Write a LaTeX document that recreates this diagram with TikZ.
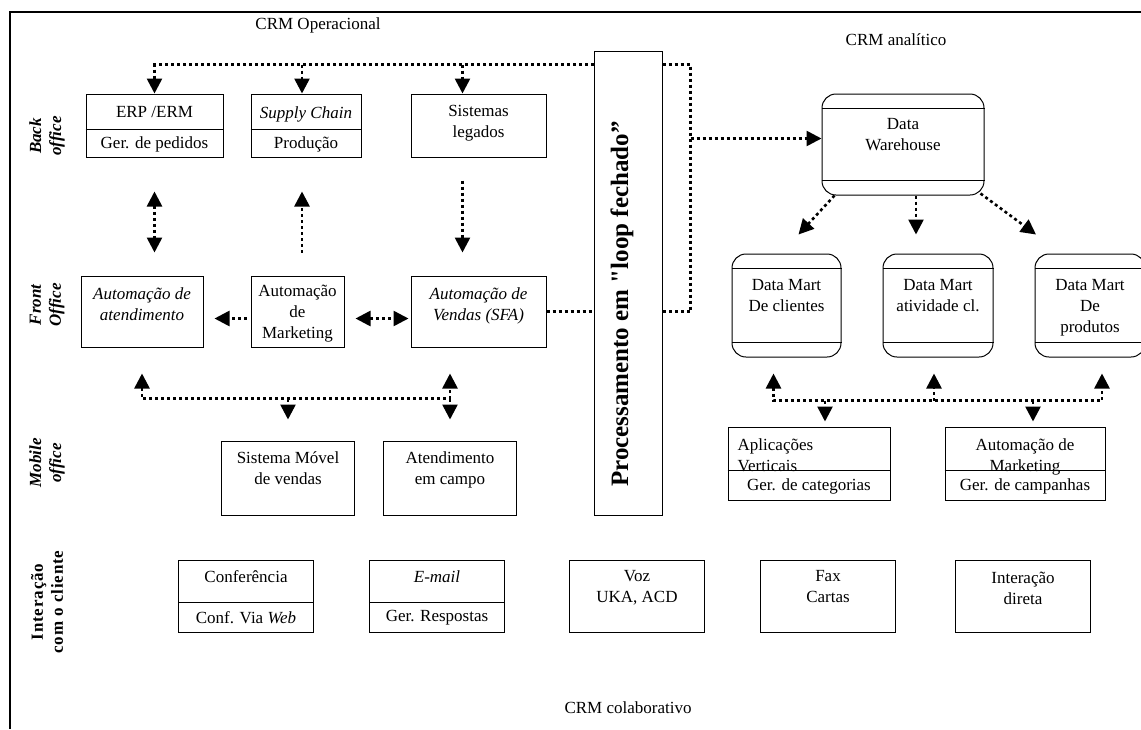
\documentclass[tikz,border=0pt]{standalone}
\usepackage{fontspec}
\setmainfont{Liberation Serif}
\usetikzlibrary{arrows.meta,positioning,calc}
\newcommand\txtfont{\fontsize{17}{21}\selectfont}
\newcommand\sidefont{\fontsize{17}{20}\selectfont\bfseries\itshape}
\newcommand\interfont{\fontsize{17}{20}\selectfont\bfseries\addfontfeatures{LetterSpace=5}}
\newcommand\loopfont{\fontsize{25}{30}\selectfont\bfseries}

\begin{document}
\begin{tikzpicture}[
  x=1pt, y=-1pt,
  every node/.style={font=\txtfont},
  box/.style={draw, line width=1pt, inner sep=0pt},
  store/.style={box, rounded corners=14pt},
  txt/.style={inner sep=0pt, align=center},
  side/.style={inner sep=0pt, align=center, rotate=90, font=\sidefont},
  dots/.style={line width=2.6pt, dash pattern=on 3pt off 3pt},
  >={Triangle[length=15pt,width=15pt]}
]
\useasboundingbox (0,0) rectangle (1141,729);
\draw[line width=2pt] (1141,12) -- (10,12) -- (10,729);

% titles and side labels
\node[txt] (crmop) at (318,25) {CRM Operacional};
\node[txt] (crman) at (896,40) {CRM analítico};
\node[txt] (crmcol) at (628,708) {CRM colaborativo};
\node[side] (lback) at (47,136) {Back\\office};
\node[side] (lfront) at (47,305) {Front\\Office};
\node[side] (lmobile) at (47,463) {Mobile\\office};
\node[side, font=\interfont] (linter) at (47,602) {Interação\\com o cliente};

% back office
\node[box, minimum width=137pt, minimum height=63pt] (erp) at (154.5,125.5) {};
\node[box, minimum width=110pt, minimum height=63pt, right=27pt of erp] (supply) {};
\node[box, minimum width=135pt, minimum height=63pt, right=49pt of supply] (legados) {};
\draw[line width=1pt] ($(erp.north west)+(0,36)$) -- ($(erp.north east)+(0,36)$);
\draw[line width=1pt] ($(supply.north west)+(0,36)$) -- ($(supply.north east)+(0,36)$);
\node[txt, anchor=north] (erp-t) at ($(erp.north)+(0,13)$) {ERP /ERM};
\node[txt] (erp-b) at ($(erp.south)+(0,-13.5)$) {Ger. de pedidos};
\node[txt, anchor=north] (supply-t) at ($(supply.north)+(0,13)$) {\textit{Supply Chain}};
\node[txt] (supply-b) at ($(supply.south)+(0,-13.5)$) {Produção};
\node[txt, anchor=north] (legados-t) at ($(legados.north)+(0,12)$) {Sistemas\\legados};

% front office
\node[box, minimum width=122pt, minimum height=71pt] (atend) at (142,311.5) {};
\node[box, minimum width=93pt, minimum height=71pt, right=47pt of atend] (mkt) {};
\node[box, minimum width=135pt, minimum height=71pt, right=66pt of mkt] (sfa) {};
\node[txt, anchor=north, font=\txtfont\itshape] (atend-t) at ($(atend.north)+(0,12)$) {Automação de\\atendimento};
\node[txt, anchor=north] (mkt-t) at ($(mkt.north)+(0,9)$) {Automação\\de\\Marketing};
\node[txt, anchor=north, font=\txtfont\itshape] (sfa-t) at ($(sfa.north)+(0,12)$) {Automação de\\Vendas (SFA)};

% mobile office
\node[box, minimum width=133pt, minimum height=74pt] (movel) at (288,478) {};
\node[box, minimum width=133pt, minimum height=74pt, right=28pt of movel] (campo) {};
\node[txt, anchor=north] (movel-t) at ($(movel.north)+(0,11)$) {Sistema Móvel\\de vendas};
\node[txt, anchor=north] (campo-t) at ($(campo.north)+(0,11)$) {Atendimento\\em campo};

% interacao com o cliente
\node[box, minimum width=135pt, minimum height=72pt] (conf) at (246,596) {};
\node[box, minimum width=135pt, minimum height=72pt, right=55pt of conf] (email) {};
\node[box, minimum width=135pt, minimum height=72pt, right=64pt of email] (voz) {};
\node[box, minimum width=135pt, minimum height=72pt, right=55pt of voz] (fax) {};
\node[box, minimum width=135pt, minimum height=72pt, right=59pt of fax] (direta) {};
\draw[line width=1pt] ($(conf.north west)+(0,43)$) -- ($(conf.north east)+(0,43)$);
\draw[line width=1pt] ($(email.north west)+(0,43)$) -- ($(email.north east)+(0,43)$);
\node[txt, anchor=north] (conf-t) at ($(conf.north)+(0,11)$) {Conferência};
\node[txt] (conf-b) at ($(conf.south)+(0,-14.5)$) {Conf. Via \textit{Web}};
\node[txt, anchor=north] (email-t) at ($(email.north)+(0,11)$) {\textit{E-mail}};
\node[txt] (email-b) at ($(email.south)+(0,-14.5)$) {Ger. Respostas};
\node[txt, anchor=north] (voz-t) at ($(voz.north)+(0,11)$) {Voz\\UKA, ACD};
\node[txt, anchor=north] (fax-t) at ($(fax.north)+(0,11)$) {Fax\\Cartas};
\node[txt, anchor=north] (direta-t) at ($(direta.north)+(0,12)$) {Interação\\direta};

% processamento em loop fechado
\node[box, minimum width=68pt, minimum height=464pt] (loop) at (628,283) {};
\node[rotate=90, inner sep=0pt, font=\loopfont] (loop-t) at ($(loop.center)+(-6,21)$) {Processamento em {\addfontfeatures{Ligatures=TeXOff}"}loop fechado''};

% crm analitico
\node[store, minimum width=162pt, minimum height=101pt] (dw) at (903,144.5) {};
\node[store, minimum width=109pt, minimum height=103pt] (dmcli) at (786.5,305.5) {};
\node[store, minimum width=110pt, minimum height=103pt, right=41pt of dmcli] (dmativ) {};
\node[store, minimum width=110pt, minimum height=103pt, right=41pt of dmativ] (dmprod) {};
\draw[line width=1pt] ($(dw.north west)+(0,15)$) -- ($(dw.north east)+(0,15)$);
\draw[line width=1pt] ($(dw.south west)+(0,-15)$) -- ($(dw.south east)+(0,-15)$);
\draw[line width=1pt] ($(dmcli.north west)+(0,15)$) -- ($(dmcli.north east)+(0,15)$);
\draw[line width=1pt] ($(dmcli.south west)+(0,-15)$) -- ($(dmcli.south east)+(0,-15)$);
\draw[line width=1pt] ($(dmativ.north west)+(0,15)$) -- ($(dmativ.north east)+(0,15)$);
\draw[line width=1pt] ($(dmativ.south west)+(0,-15)$) -- ($(dmativ.south east)+(0,-15)$);
\draw[line width=1pt] ($(dmprod.north west)+(0,15)$) -- ($(dmprod.north east)+(0,15)$);
\draw[line width=1pt] ($(dmprod.south west)+(0,-15)$) -- ($(dmprod.south east)+(0,-15)$);
\node[txt, anchor=north] (dw-t) at ($(dw.north)+(0,25)$) {Data\\Warehouse};
\node[txt, anchor=north] (dmcli-t) at ($(dmcli.north)+(0,26)$) {Data Mart\\De clientes};
\node[txt, anchor=north] (dmativ-t) at ($(dmativ.north)+(0,26)$) {Data Mart\\atividade cl.};
\node[txt, anchor=north] (dmprod-t) at ($(dmprod.north)+(0,26)$) {Data Mart\\De\\produtos};

\node[box, minimum width=162pt, minimum height=73pt] (apvert) at (809,463.5) {};
\node[box, minimum width=160pt, minimum height=73pt, right=54pt of apvert] (apmkt) {};
\node[txt, align=left, anchor=north west] (apvert-t) at ($(apvert.north west)+(10,12)$) {Aplicações\\Verticais};
\node[txt, anchor=north] (apmkt-t) at ($(apmkt.north)+(0,12)$) {Automação de\\Marketing};
\draw[line width=1pt] ($(apvert.north west)+(0,44)$) -- ($(apvert.north east)+(0,44)$);
\draw[line width=1pt] ($(apmkt.north west)+(0,44)$) -- ($(apmkt.north east)+(0,44)$);
\node[txt] (apvert-b) at ($(apvert.south)+(0,-14.5)$) {Ger. de categorias};
\node[txt] (apmkt-b) at ($(apmkt.south)+(0,-14.5)$) {Ger. de campanhas};

% connectors
\coordinate (ltop) at ($(loop.north east)+(28,14)$);
\coordinate (supin) at ($(supply.north)+(-4,0)$);
\coordinate (legin) at ($(legados.north)+(-16,0)$);
\coordinate (dwin) at ($(dw.west)+(0,-6)$);
\draw[dots,->] (loop.west |- ltop) -| (erp.north);
\draw[dots,->] (supin |- ltop) -- (supin);
\draw[dots,->] (legin |- ltop) -- (legin);
\draw[dots] (loop.east |- ltop) -- (ltop) |- (loop.east |- sfa.east);
\draw[dots,->] (ltop |- dwin) -- (dwin);
\draw[dots] (sfa.east) -- (sfa.east -| loop.west);

\draw[dots,<->] ($(erp.south)+(0,34)$) -- ($(erp.south |- atend.north)+(0,-23)$);
\draw[dots,->] ($(supin |- mkt.north)+(0,-23)$) -- ($(supin |- supply.south)+(0,34)$);
\draw[dots,->] ($(legin |- legados.south)+(0,23)$) -- ($(legin |- sfa.north)+(0,-23)$);
\draw[dots,->,shorten <=4pt,shorten >=11pt] ($(mkt.west)+(0,7)$) -- ($(atend.east)+(0,7)$);
\draw[dots,<->,shorten <=11pt,shorten >=2pt] ($(mkt.east)+(0,7)$) -- ($(sfa.west)+(0,7)$);

\coordinate (mbus) at ($(atend.south)+(0,51)$);
\draw[dots,<->] ($(atend.south)+(0,26)$) -- (atend.south |- mbus) -- (campo.north |- mbus) -- ($(campo.north |- sfa.south)+(0,26)$);
\draw[dots,->] (campo.north |- mbus) -- ($(campo.north)+(0,-21)$);
\draw[dots,->] (movel.north |- mbus) -- ($(movel.north)+(0,-21)$);

\draw[dots,->] ($(dw.south west)+(13,0)$) -- ($(dmcli.north)+(12,-19)$);
\draw[dots,->] ($(dw.south)+(13,0)$) -- ($(dw.south |- dmativ.north)+(13,-19)$);
\draw[dots,->] ($(dw.south east)+(-4,-2)$) -- ($(dmprod.north)+(-54,-19)$);

\coordinate (abl) at ($(dmcli.south)+(-13,43)$);
\coordinate (abr) at ($(dmprod.south)+(12,43)$);
\draw[dots,<->] ($(abl)+(0,-27)$) -- (abl) -- (abr) -- ($(abr)+(0,-27)$);
\draw[dots,->] ($(dmativ.south |- abl)+(-4,0)$) -- ($(dmativ.south)+(-4,16)$);
\draw[dots,->] ($(apvert.north |- abl)+(16,0)$) -- ($(apvert.north)+(16,-5)$);
\draw[dots,->] ($(apmkt.north |- abl)+(8,0)$) -- ($(apmkt.north)+(8,-5)$);
\end{tikzpicture}
\end{document}
